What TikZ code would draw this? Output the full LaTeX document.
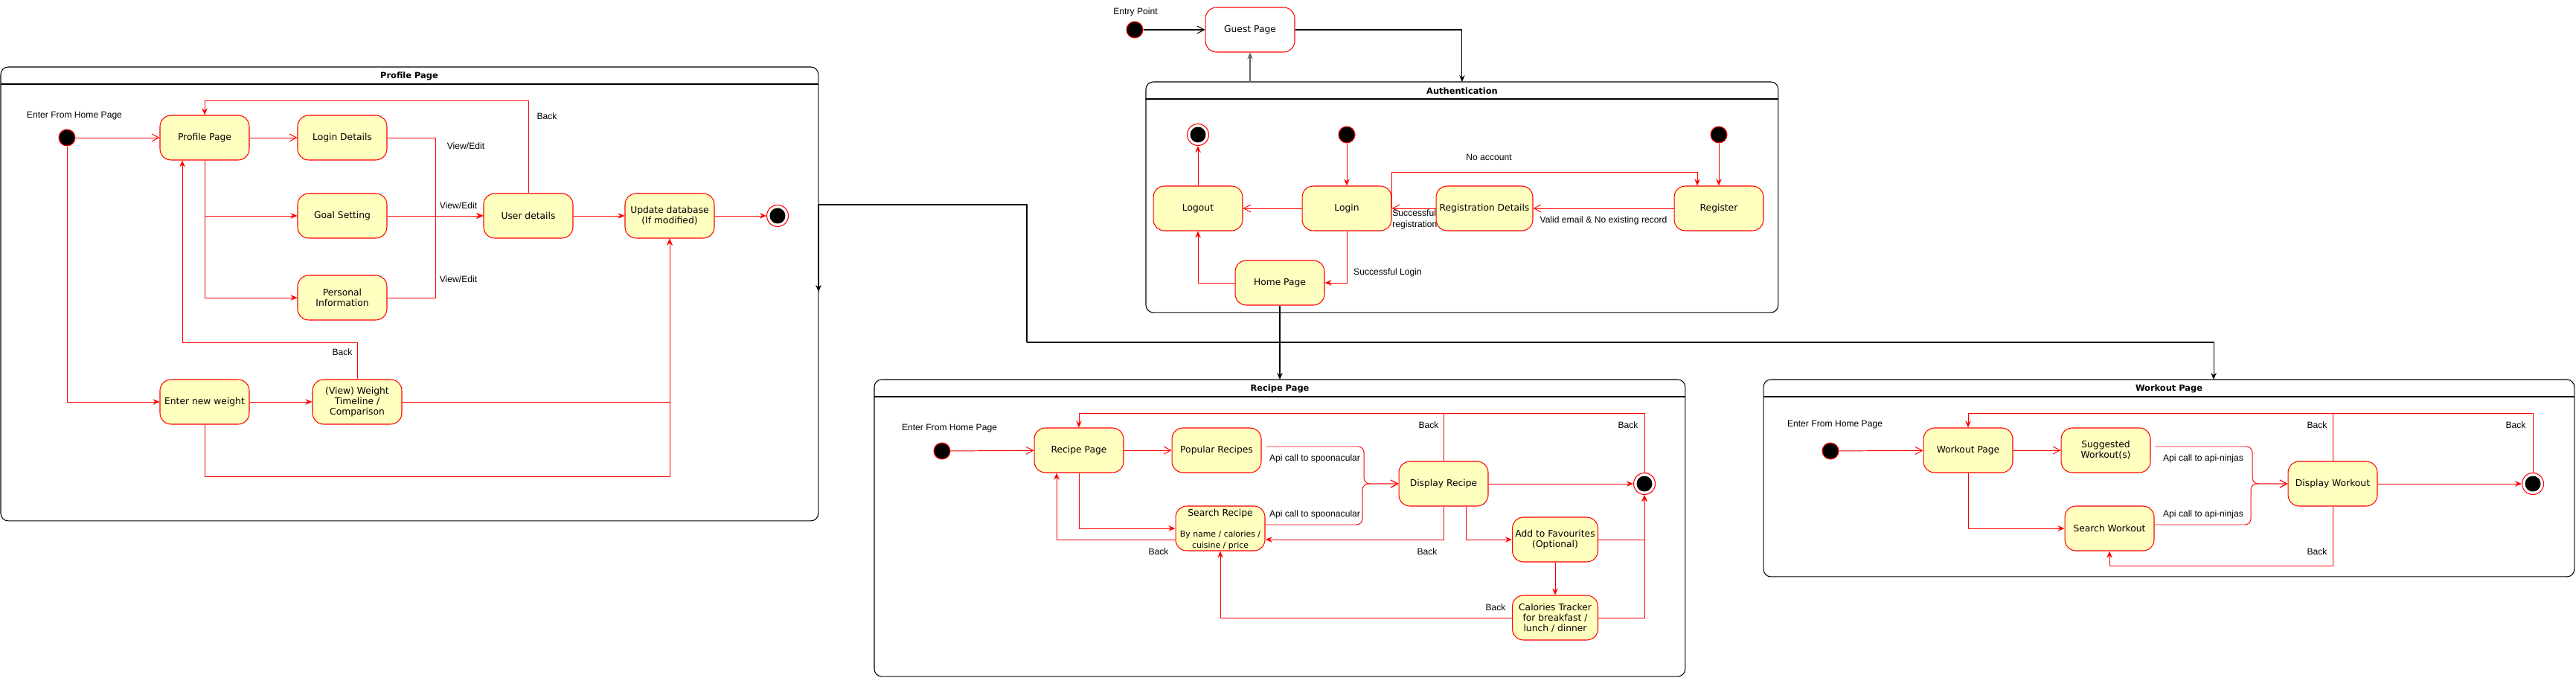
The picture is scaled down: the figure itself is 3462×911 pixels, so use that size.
\documentclass[tikz,border=0pt]{standalone}
\usepackage{fontspec}
\setmainfont{Liberation Sans}
\newfontfamily\dvs{DejaVu Sans}
\usetikzlibrary{arrows.meta,calc}
\definecolor{stf}{HTML}{FFFFC0}
\definecolor{rr}{HTML}{FF0000}
\definecolor{gg}{HTML}{666666}
\begin{document}
\begin{tikzpicture}[x=0.02cm,y=-0.02cm,
  state/.style={draw=rr, fill=stf, rounded corners=0.3cm, minimum width=2.4cm, minimum height=1.2cm, inner sep=1pt, align=center, font=\dvs\fontsize{7}{7.94}\selectfont, line width=0.6pt},
  ini/.style={circle, draw=rr, fill=black, minimum size=0.44cm, inner sep=0pt, line width=0.6pt},
  fin/.style={circle, draw=rr, fill=white, minimum size=0.58cm, inner sep=0pt, line width=0.6pt, path picture={\fill[black] (path picture bounding box.center) circle (0.21cm);}},
  lbl/.style={font=\fontsize{6.9}{8.3}\selectfont, inner sep=0pt, align=center},
  frm/.style={draw=black, rounded corners=0.2cm, line width=0.6pt, inner sep=0pt, outer sep=0pt, anchor=north west},
  ttl/.style={font=\dvs\bfseries\fontsize{6.5}{8}\selectfont, inner sep=0pt},
  rl/.style={draw=rr, line width=0.55pt},
  tr/.style={rl, -{Stealth[length=0.18cm,width=0.15cm,inset=0.06cm]}},
  to/.style={rl, -{Straight Barb[length=0.19cm,width=0.2cm]}},
  blk/.style={draw=black, line width=0.6pt, -{Stealth[length=0.18cm,width=0.15cm,inset=0.06cm]}},
  api/.style={to, rounded corners=0.16cm}
]
\useasboundingbox (0,0) rectangle (3462,911);
\fill[white] (0,0) rectangle (3462,911);

% ---------------- frames ----------------
\node[frm, minimum width=21.98cm, minimum height=12.2cm] (prof) at (1,90) {};
\draw[line width=0.6pt] ($(prof.north west)+(0,23)$) -- ($(prof.north east)+(0,23)$);
\node[ttl] (proft) at (550,102) {Profile Page};

\node[frm, minimum width=17cm, minimum height=6.2cm] (auth) at (1540,110) {};
\draw[line width=0.6pt] ($(auth.north west)+(0,23)$) -- ($(auth.north east)+(0,23)$);
\node[ttl] (autht) at (1965,122) {Authentication};

\node[frm, minimum width=21.8cm, minimum height=7.98cm] (rec) at (1175,510) {};
\draw[line width=0.6pt] ($(rec.north west)+(0,23)$) -- ($(rec.north east)+(0,23)$);
\node[ttl] (rect) at (1720,522) {Recipe Page};

\node[frm, minimum width=21.8cm, minimum height=5.3cm] (wo) at (2370,510) {};
\draw[line width=0.6pt] ($(wo.north west)+(0,23)$) -- ($(wo.north east)+(0,23)$);
\node[ttl] (wot) at (2915,522) {Workout Page};

% ---------------- top: guest + authentication ----------------
\node[lbl] (entl) at (1526,16) {Entry Point};
\node[ini] (ginit) at (1525,40) {};
\node[state, fill=white] (gp) at (1680,40) {Guest Page};

\node[fin] (afin) at (1610,181) {};
\node[ini] (linit) at (1810,181) {};
\node[ini] (rinit) at (2310,181) {};
\node[state] (lo) at (1610,280) {Logout};
\node[state] (li) at (1810,280) {Login};
\node[state, minimum width=2.6cm] (rd) at (1995,280) {Registration Details};
\node[state] (rg) at (2310,280) {Register};
\node[state] (hp) at (1720,380) {Home Page};

\draw[blk, -{Straight Barb[length=0.19cm,width=0.2cm]}] (ginit) -- (gp);
\draw[blk] (gp.east) -| (auth.north);
\draw[draw=gg, line width=0.6pt, -{Stealth[length=0.18cm,width=0.15cm,inset=0.06cm]}] (gp.south |- auth.north) -- (gp.south);

\draw[tr] (linit) -- (li);
\draw[tr] (rinit) -- (rg);
\draw[tr] (lo) -- (afin);
\draw[to] (li) -- (lo);
\draw[to] (rg) -- (rd);
\draw[to] (rd) -- (li);
\coordinate (nac) at (2281,231);
\draw[tr] (li.east) |- (nac) -- (nac |- rg.north);
\draw[tr] (hp.west) -| (lo.south);
\draw[tr] (li.south) |- (hp.east);
\node[lbl] (noacc) at (2001,211) {No account};
\node[lbl] (valid) at (2155,296) {Valid email \& No existing record};
\node[lbl, anchor=west, align=left] (sreg) at (1871,295) {Successful\\registration};
\node[lbl] (slog) at (1865,366) {Successful Login};

\draw[blk] (hp.south) -- (hp.south |- rec.north);

% profile -> workout connector
\coordinate (pe) at (1100,275);
\coordinate (pa) at (1100,392);
\coordinate (pw1) at (1380,460);
\coordinate (wa) at (2975,510);
\draw[blk, -] (pe) -| (pw1);
\draw[blk] (pw1) -| (wa);
\draw[blk] (pe) -- (pa);

% ---------------- profile page ----------------
\node[lbl] (pentl) at (100,156) {Enter From Home Page};
\node[ini] (pinit) at (90,185) {};
\node[state] (pp) at (275,185) {Profile Page};
\node[state] (ld) at (460,185) {Login Details};
\node[state] (gs) at (460,290) {Goal Setting};
\node[state] (pi) at (460,400) {Personal\\Information};
\node[state] (ud) at (710,290) {User details};
\node[state] (udb) at (900,290) {Update database\\(If modified)};
\node[fin] (pfin) at (1045,290) {};
\node[state] (enw) at (275,540) {Enter new weight};
\node[state] (wt) at (480,540) {(View) Weight\\Timeline /\\Comparison};

\coordinate (m1) at (585,290);
\draw[to] (pinit) -- (pp);
\draw[to] (pp) -- (ld);
\draw[tr] (ld.east) -| (m1) -- (ud.west);
\draw[tr] (gs) -- (ud);
\draw[tr] (pi.east) -| (m1) -- (ud.west);
\draw[tr] (pp.south) |- (gs.west);
\draw[tr] (pp.south) |- (pi.west);
\coordinate (ub) at (710,135);
\draw[tr] (ud.north) -- (ub) -| (pp.north);
\draw[tr] (ud) -- (udb);
\draw[tr] (udb) -- (pfin);
\draw[tr] (pinit.south) |- (enw.west);
\draw[tr] (enw) -- (wt);
\coordinate (pb) at (245,460);
\draw[tr] (wt.north) |- (pb) -- (pb |- pp.south);
\draw[tr] (wt.east) -| (udb.south);
\coordinate (eb) at (900,640);
\draw[tr] (enw.south) |- (eb) -- (udb.south);
\node[lbl] (pback1) at (735,156) {Back};
\node[lbl] (ve1) at (626,196) {View/Edit};
\node[lbl] (ve2) at (616,276) {View/Edit};
\node[lbl] (ve3) at (616,375) {View/Edit};
\node[lbl] (pback2) at (460,473) {Back};

% ---------------- recipe page ----------------
\node[lbl] (rentl) at (1276,576) {Enter From Home Page};
\node[ini] (rinit2) at (1266,606) {};
\node[state] (rp) at (1450,605) {Recipe Page};
\node[state] (pr) at (1635,605) {Popular Recipes};
\node[state] (sr) at (1640,710) {};
\node[font=\dvs\fontsize{7}{8}\selectfont, inner sep=0pt] (srt) at (1640,690) {Search Recipe};
\node[font=\dvs\fontsize{6.2}{8.3}\selectfont, inner sep=0pt, align=center] (srs) at (1640,726) {By name / calories /\\cuisine / price};
\node[state] (dr) at (1940,650) {Display Recipe};
\node[fin] (rfin) at (2210,650) {};
\node[state, minimum width=2.3cm] (af) at (2090,725) {Add to Favourites\\(Optional)};
\node[state, minimum width=2.3cm] (ct) at (2090,830) {Calories Tracker\\for breakfast /\\lunch / dinner};

\draw[to] (rinit2) -- (rp);
\draw[to] (rp) -- (pr);
\draw[api] ($(pr.east)+(6,-5)$) -- (1833,600) -- (1833,650) -- (dr.west);
\draw[api] ($(sr.east)+(0,-5)$) -- (1831,705) -- (1831,650) -- (dr.west);
\draw[tr] (rp.south) |- (sr.west);
\draw[tr] ($(sr.west)+(0,15)$) -| ($(rp.south)+(-30,0)$);
\coordinate (rtop) at (1940,555);
\draw[tr] (dr.north) -- (rtop) -| (rp.north);
\draw[rl] (rfin.north) |- (rtop);
\draw[tr] (dr) -- (rfin);
\draw[tr] (dr.south) |- ($(sr.east)+(0,15)$);
\draw[tr] ($(dr.south)+(30,0)$) |- (af.west);
\draw[tr] (af.east) -| (rfin.south);
\draw[tr] (ct.east) -| (rfin.south);
\draw[tr] (af) -- (ct);
\draw[tr] (ct.west) -| (sr.south);
\node[lbl] (api1) at (1767,616) {Api call to spoonacular};
\node[lbl] (api2) at (1767,691) {Api call to spoonacular};
\node[lbl] (rb1) at (1920,571) {Back};
\node[lbl] (rb2) at (2188,571) {Back};
\node[lbl] (rb3) at (1557,741) {Back};
\node[lbl] (rb4) at (1918,741) {Back};
\node[lbl] (rb5) at (2010,816) {Back};

% ---------------- workout page ----------------
\node[lbl] (wentl) at (2466,571) {Enter From Home Page};
\node[ini] (winit) at (2460,606) {};
\node[state] (wp) at (2645,605) {Workout Page};
\node[state] (sw) at (2830,605) {Suggested\\Workout(s)};
\node[state] (sws) at (2835,710) {Search Workout};
\node[state] (dw) at (3135,650) {Display Workout};
\node[fin] (wfin) at (3404,650) {};

\draw[to] (winit) -- (wp);
\draw[to] (wp) -- (sw);
\draw[api] ($(sw.east)+(6,-5)$) -- (3027,600) -- (3027,650) -- (dw.west);
\draw[api] ($(sws.east)+(0,-5)$) -- (3025,705) -- (3025,650) -- (dw.west);
\draw[tr] (wp.south) |- (sws.west);
\coordinate (wtop) at (3135,555);
\draw[tr] (dw.north) -- (wtop) -| (wp.north);
\draw[rl] (wfin.north) |- (wtop);
\draw[tr] (dw) -- (wfin);
\draw[tr] (dw.south) -- ++(0,80) -| (sws.south);
\node[lbl] (wapi1) at (2961,616) {Api call to api-ninjas};
\node[lbl] (wapi2) at (2961,691) {Api call to api-ninjas};
\node[lbl] (wb1) at (3114,571) {Back};
\node[lbl] (wb2) at (3381,571) {Back};
\node[lbl] (wb3) at (3114,741) {Back};
\end{tikzpicture}
\end{document}
